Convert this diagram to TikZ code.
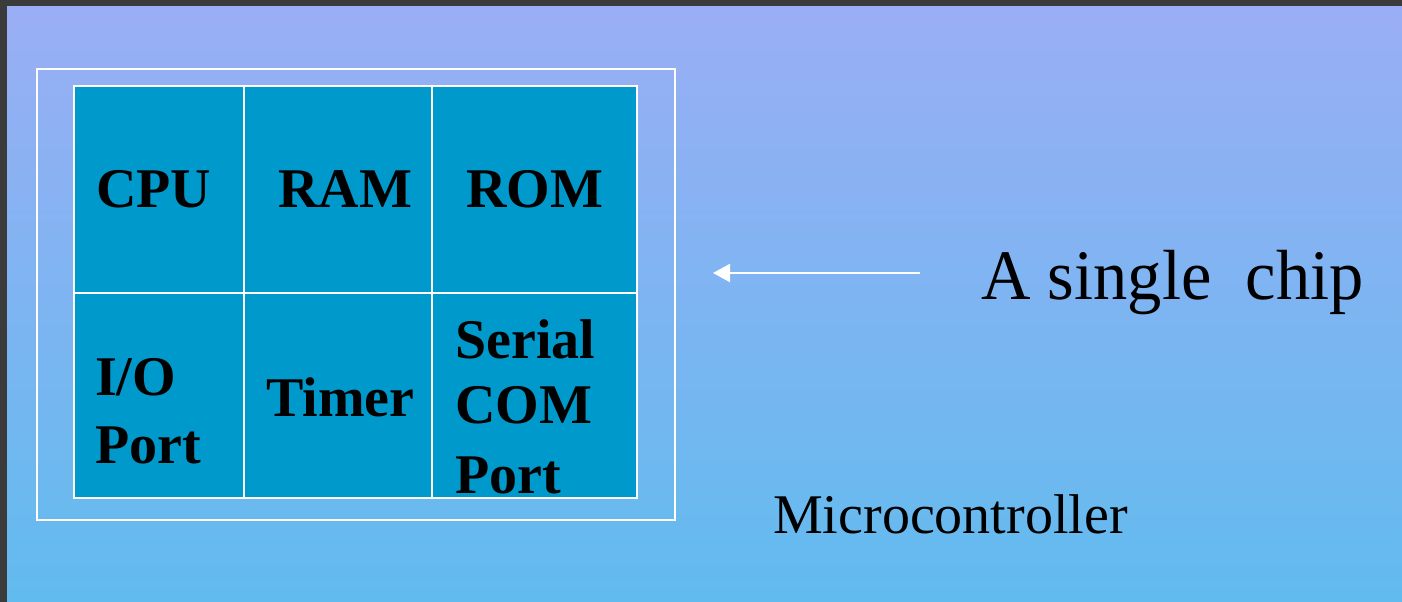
\documentclass[tikz,border=0pt]{standalone}
\usepackage{fontspec}
\setmainfont{Liberation Serif}
\usetikzlibrary{arrows.meta}
\definecolor{frameedge}{HTML}{3B3B3B}
\definecolor{skytop}{HTML}{9AAEF5}
\definecolor{skybot}{HTML}{61BBEE}
\definecolor{cellblue}{HTML}{0099CC}

\begin{document}
\begin{tikzpicture}[x=1pt,y=-1pt,
  cell/.style={draw=white, line width=1.8pt, fill=cellblue, anchor=north west,
               inner sep=0pt, outer sep=0pt},
  lbl/.style={anchor=base west, inner sep=0pt, text=black,
              font=\fontsize{56}{67}\selectfont\bfseries},
  caption/.style={anchor=base west, inner sep=0pt, text=black},
]
% page frame and sky gradient
\useasboundingbox (0,0) rectangle (1402,602);
\fill[frameedge] (0,0) rectangle (1402,602);
\shade[top color=skytop, bottom color=skybot] (7,7) rectangle (1402,602);

% chip outline
\node[draw=white, line width=1.8pt, anchor=north west, inner sep=0pt,
      minimum width=638pt, minimum height=451pt] (chip) at (36,68) {};

% functional blocks
\node[cell, minimum width=170pt, minimum height=207pt] (cpu)   at (74,86)   {};
\node[cell, minimum width=188pt, minimum height=207pt] (ram)   at (244,86)  {};
\node[cell, minimum width=205pt, minimum height=207pt] (rom)   at (432,86)  {};
\node[cell, minimum width=170pt, minimum height=205pt] (io)    at (74,293)  {};
\node[cell, minimum width=188pt, minimum height=205pt] (timer) at (244,293) {};
\node[cell, minimum width=205pt, minimum height=205pt] (com)   at (432,293) {};

% block labels
\node[lbl] (cpuL)   at (96,207)  {CPU};
\node[lbl] (ramL)   at (278,207) {RAM};
\node[lbl] (romL)   at (466,207) {ROM};
\node[lbl] (ioL1)   at (95,395)  {I/O};
\node[lbl] (ioL2)   at (95,463)  {Port};
\node[lbl] (timerL) at (266,416) {Timer};
\node[lbl] (comL1)  at (455,358) {Serial};
\node[lbl] (comL2)  at (455,423) {COM};
\node[lbl] (comL3)  at (455,493) {Port};

% pointer to the chip
\coordinate (tail) at (920,273);
\coordinate (tip)  at (713,273);
\draw[white, line width=2pt, -{Triangle[length=17pt,width=18pt]}] (tail) -- (tip);

% captions
\node[caption, xscale=0.965, font=\fontsize{71}{80}\selectfont] (single) at (981,299) {A single\ \ chip};
\node[caption, font=\fontsize{56}{67}\selectfont] (mcu) at (773,533) {Microcontroller};
\end{tikzpicture}
\end{document}
